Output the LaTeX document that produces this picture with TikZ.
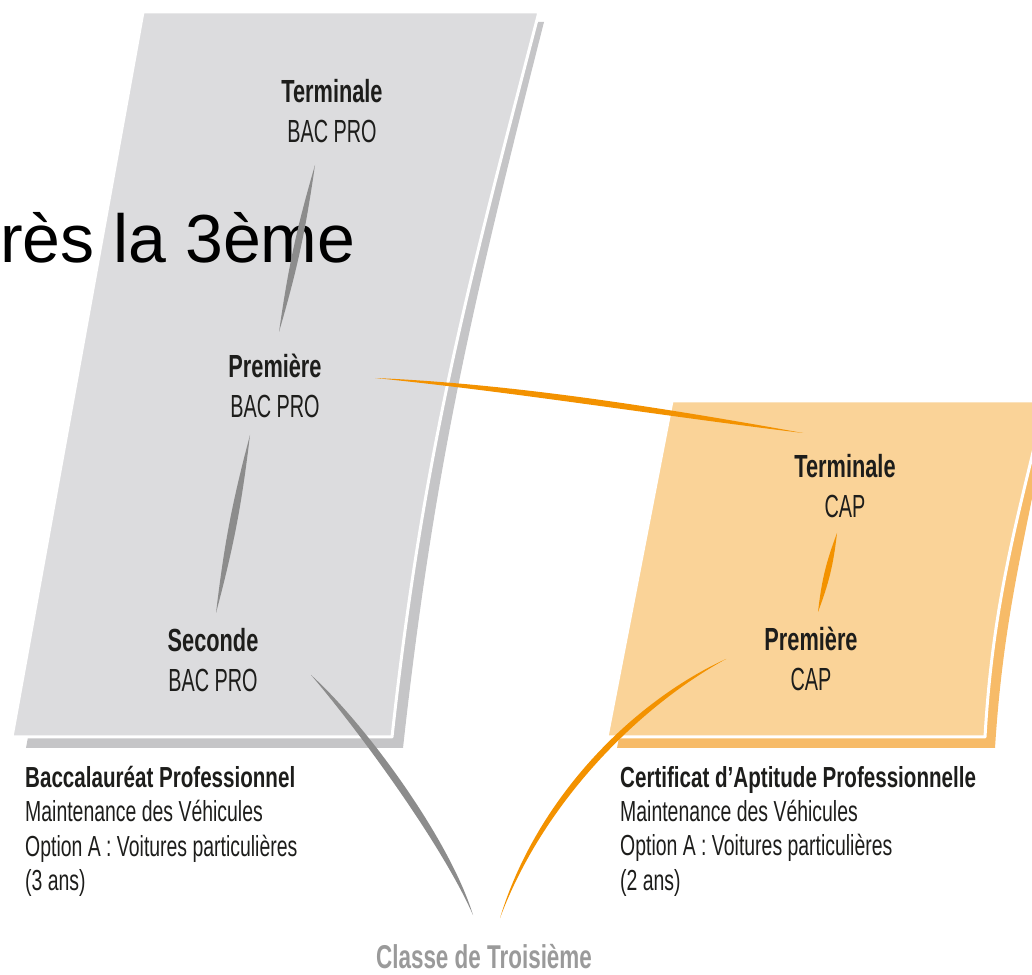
\documentclass[tikz,border=0pt]{standalone}
\usepackage{fontspec}
\newfontfamily\dinfont[FakeStretch=0.62,BoldFeatures={FakeStretch=0.68}]{Liberation Sans}
\newfontfamily\dininfo[FakeStretch=0.67,BoldFeatures={FakeStretch=0.71}]{Liberation Sans}
\newfontfamily\titlefont{Liberation Sans}
\definecolor{sheetgray}{HTML}{DCDCDE}
\definecolor{sheetgrayshadow}{HTML}{C5C5C7}
\definecolor{sheetorange}{HTML}{FAD398}
\definecolor{sheetorangeshadow}{HTML}{F7BB68}
\definecolor{inkgray}{HTML}{8C8C8C}
\definecolor{inkorange}{HTML}{F39200}
\definecolor{inkblack}{HTML}{1D1D1B}
\definecolor{textgray}{HTML}{9A9A9A}

\begin{document}
\begin{tikzpicture}[x=1pt,y=1pt,
  yearlbl/.style={font=\dinfont\fontsize{32}{40}\selectfont, align=center, text=inkblack, inner sep=0},
  infolbl/.style={font=\dininfo\fontsize{29}{34.3}\selectfont, align=left, anchor=north west, text=inkblack, inner sep=0},
  sheetedge/.style={draw=white, line width=3pt, line join=round},
  brushgray/.style={fill=inkgray},
  brushorange/.style={fill=inkorange}]
\useasboundingbox (0,0) rectangle (1032,974);
\begin{scope}
\clip (0,0) rectangle (1032,974);
% feuille BAC PRO
\fill[sheetgrayshadow] (26,226) -- (159,952) -- (544,952) .. controls (473,672) and (434,508) .. (403,226) -- cycle;
\filldraw[fill=sheetgray, sheetedge] (12,237) -- (143,962) -- (539,962) .. controls (466,682) and (423,519) .. (392,237) -- cycle;
% feuille CAP
\fill[sheetorangeshadow] (617,226) -- (995,226) .. controls (1004,370) and (1030,450) .. (1048,562) -- (682,562) -- cycle;
\filldraw[fill=sheetorange, sheetedge] (607,237) -- (985,237) .. controls (993,380) and (1022,470) .. (1045,573) -- (672,573) -- cycle;
\end{scope}

\node[anchor=base west, inner sep=0, font=\titlefont\fontsize{68}{80}\selectfont] (titre) at (0,711) {rès la 3ème};

\node[yearlbl] (termbac) at (332,863) {\textbf{Terminale}\\BAC PRO};
\node[yearlbl] (prembac) at (275,588) {\textbf{Première}\\BAC PRO};
\node[yearlbl] (secbac) at (213,314) {\textbf{Seconde}\\BAC PRO};
\node[yearlbl] (termcap) at (845,488) {\textbf{Terminale}\\CAP};
\node[yearlbl] (premcap) at (811,315) {\textbf{Première}\\CAP};

\node[infolbl] (infobac) at (25,208) {\textbf{Baccalauréat Professionnel}\\Maintenance des Véhicules\\Option A : Voitures particulières\\(3 ans)};
\node[infolbl] (infocap) at (620,208) {\textbf{Certificat d’Aptitude Professionnelle}\\Maintenance des Véhicules\\Option A : Voitures particulières\\(2 ans)};
\node[anchor=base, inner sep=0, text=textgray, font=\dinfont\bfseries\fontsize{33}{38}\selectfont] (troisieme) at (484,6) {Classe de Troisième};

% bouts des traits
\coordinate (g1a) at (315,809); \coordinate (g1b) at (279,642);
\coordinate (g2a) at (250,539); \coordinate (g2b) at (216,361);
\coordinate (g3a) at (311,299); \coordinate (g3b) at (473,59);
\coordinate (o1a) at (375,596); \coordinate (o1b) at (803,541);
\coordinate (o2a) at (837,441); \coordinate (o2b) at (818,362);
\coordinate (o3a) at (726,315); \coordinate (o3b) at (500,56);

\fill[brushgray] (g1a) to[bend left=4] (g1b) to[bend left=4] (g1a);
\fill[brushgray] (g2a) to[bend left=4] (g2b) to[bend left=4] (g2a);
\fill[brushgray] (g3a) .. controls +(53,-47.5) and +(-24,77.5) .. (g3b) .. controls +(-32,72.5) and +(45,-52.5) .. (g3a) -- cycle;
\fill[brushorange] (o1a) .. controls +(140,-6) and +(-139,25) .. (o1b) .. controls +(-141,17) and +(139,-14) .. (o1a) -- cycle;
\fill[brushorange] (o2a) to[bend left=7] (o2b) to[bend left=7] (o2a);
\fill[brushorange] (o3a) .. controls +(-86.7,-47.3) and +(43.3,115.7) .. (o3b) .. controls +(36.7,120.3) and +(-93.3,-42.7) .. (o3a) -- cycle;
\end{tikzpicture}
\end{document}
